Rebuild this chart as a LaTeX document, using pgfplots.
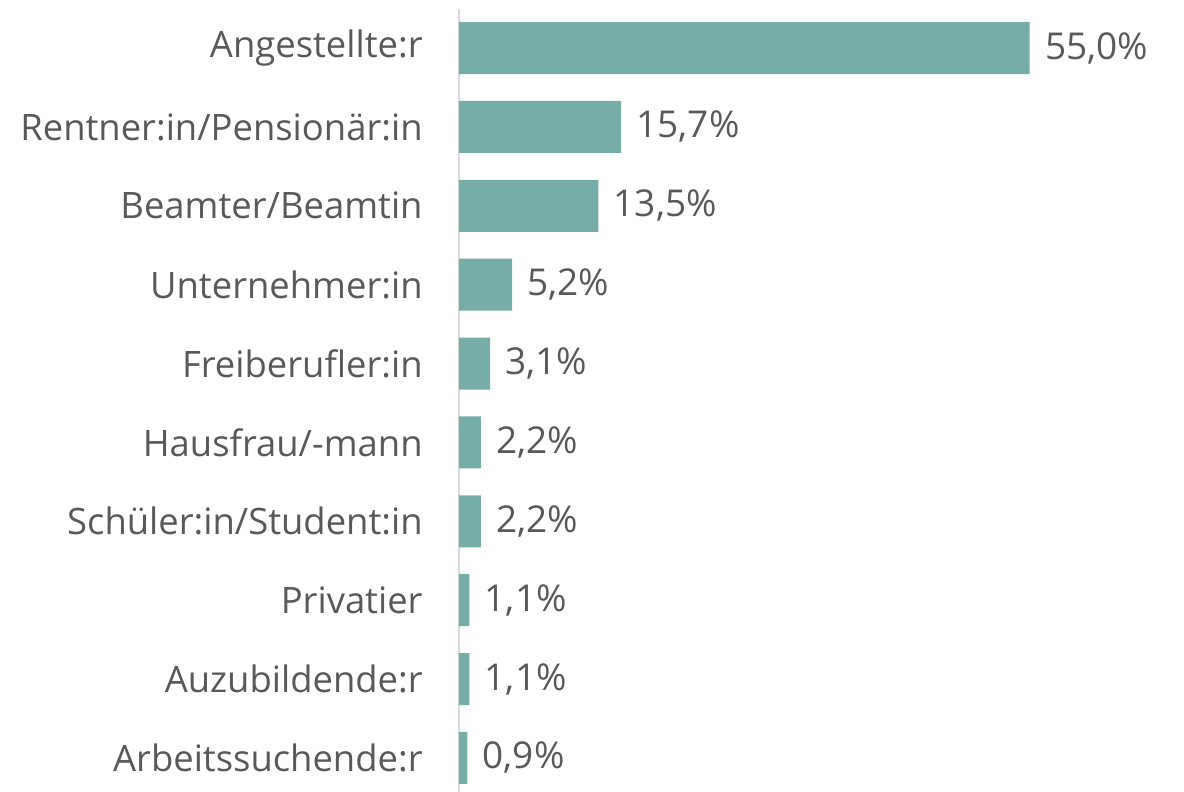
\documentclass[border=0pt]{standalone}
\usepackage{pgfplots}
\pgfplotsset{compat=1.18}
\usepackage{fontspec}
\setmainfont{Open Sans}
\definecolor{barc}{HTML}{76ADA6}
\definecolor{txt}{HTML}{595959}
\definecolor{axl}{HTML}{D9D9D9}
\begin{document}
\begin{tikzpicture}
\useasboundingbox (0,0) rectangle (592pt,396pt);
\begin{axis}[
  at={(229.5pt,-2.7pt)}, anchor=south west,
  scale only axis, width=362.5pt, height=394.4pt,
  xbar, bar width=26pt, bar shift=0pt,
  xmin=0.1, xmax=69.85,
  ymin=-0.5, ymax=9.5, y dir=reverse,
  ytick={0,...,9},
  yticklabels={Angestellte:r,Rentner:in/Pensionär:in,Beamter/Beamtin,Unternehmer:in,Freiberufler:in,Hausfrau/-mann,Schüler:in/Student:in,Privatier,Auzubildende:r,Arbeitssuchende:r},
  y tick label style={font=\fontsize{18.2}{20}\selectfont, text=txt, anchor=east, inner sep=0pt, xshift=-18pt},
  xtick=\empty, major tick length=0pt,
  axis x line=none,
  axis y line*=left,
  y axis line style={draw=axl, line width=1pt, -},
  /pgf/number format/assume math mode=true,
  nodes near coords={\pgfmathprintnumber[fixed, fixed zerofill, precision=1, use comma, assume math mode=true]{\pgfplotspointmeta}\%},
  nodes near coords style={font=\fontsize{18.5}{20}\selectfont, text=txt, anchor=west, inner sep=0pt, xshift=7.5pt},
  point meta=explicit symbolic,
  clip=false,
]
\addplot[fill=barc, draw=none] table[meta=m] {
x y m
55.0 0 55.0
15.7 1 15.7
13.5 2 13.5
5.2 3 5.2
3.1 4 3.1
2.2 5 2.2
2.2 6 2.2
1.1 7 1.1
1.1 8 1.1
0.9 9 0.9
};
\end{axis}
\end{tikzpicture}
\end{document}
